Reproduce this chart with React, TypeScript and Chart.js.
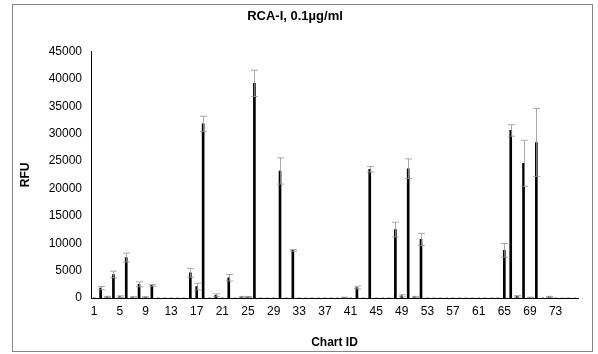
import React, { useEffect, useRef } from "react";
import { Chart, registerables } from "chart.js";

Chart.register(...registerables);

const TITLE = "RCA-I, 0.1µg/ml";
const X_TITLE = "Chart ID";
const Y_TITLE = "RFU";

const categories: string[] = Array.from({ length: 76 }, (_, i) => String(i + 1));

// RFU values per Chart ID (1..76)
const values: number[] = [
  0, 1800, 200, 4300, 250, 7400, 150, 2500, 150, 2300,
  0, 0, 0, 0, 0, 4600, 2100, 31800, 0, 500,
  0, 3700, 0, 200, 200, 39200, 0, 0, 0, 23200,
  0, 8700, 0, 0, 0, 0, 0, 0, 0, 100,
  0, 1900, 0, 23500, 0, 0, 0, 12500, 400, 23600,
  200, 10700, 0, 0, 0, 0, 0, 0, 0, 0,
  0, 0, 0, 0, 8700, 30600, 300, 24600, 100, 28400,
  0, 200, 0, 0, 0, 0,
];

// error (± standard deviation) per Chart ID
const errors: number[] = [
  0, 300, 100, 600, 150, 800, 80, 450, 80, 150,
  0, 0, 0, 0, 0, 800, 600, 1400, 0, 250,
  0, 600, 0, 100, 80, 2400, 0, 0, 0, 2400,
  0, 150, 0, 0, 0, 0, 0, 0, 0, 50,
  0, 250, 0, 500, 0, 0, 0, 1350, 200, 1800,
  100, 1100, 0, 0, 0, 0, 0, 0, 0, 0,
  0, 0, 0, 0, 1250, 1050, 150, 4200, 50, 6200,
  0, 100, 0, 0, 0, 0,
];

const Y_MIN = 0;
const Y_MAX = 45000;
const Y_STEP = 5000;

const errorBarPlugin = {
  id: "errorBars",
  afterDatasetsDraw(chart: any) {
    const ctx = chart.ctx;
    const meta = chart.getDatasetMeta(0);
    const yScale = chart.scales.y;
    ctx.save();
    ctx.strokeStyle = "rgba(150,150,150,0.8)";
    ctx.lineWidth = 1;
    meta.data.forEach((bar: any, i: number) => {
      const e = errors[i];
      if (!e) return;
      const v = values[i];
      const x = Math.round(bar.x) + 0.5;
      const yTop = yScale.getPixelForValue(v + e);
      const yBot = yScale.getPixelForValue(Math.max(v - e, 0));
      const hw = 3.5;
      ctx.beginPath();
      ctx.moveTo(x, yTop);
      ctx.lineTo(x, yBot);
      ctx.moveTo(x - hw, yTop);
      ctx.lineTo(x + hw, yTop);
      ctx.moveTo(x - hw, yBot);
      ctx.lineTo(x + hw, yBot);
      ctx.stroke();
    });
    ctx.restore();
  },
};

const framePlugin = {
  id: "frame",
  beforeDraw(chart: any) {
    const ctx = chart.ctx;
    ctx.save();
    ctx.fillStyle = "#ffffff";
    ctx.fillRect(0, 0, chart.width, chart.height);
    ctx.strokeStyle = "#868686";
    ctx.lineWidth = 1;
    ctx.strokeRect(12.5, 4.5, 580, 347);
    ctx.restore();
  },
};

export default function App() {
  const ref = useRef<HTMLCanvasElement | null>(null);

  useEffect(() => {
    if (!ref.current) return;
    Chart.defaults.font.family = "'Liberation Sans', Arial, sans-serif";
    Chart.defaults.color = "#000";
    const chart = new Chart(ref.current, {
      type: "bar",
      data: {
        labels: categories,
        datasets: [
          {
            data: values,
            backgroundColor: "#000000",
            borderWidth: 0,
            barThickness: 2,
          },
        ],
      },
      options: {
        animation: false,
        responsive: false,
        devicePixelRatio: 1,
        layout: { padding: { left: 12, right: 20, top: 0, bottom: 2 } },
        plugins: {
          legend: { display: false },
          tooltip: { enabled: false },
          title: {
            display: true,
            text: TITLE,
            color: "#000",
            font: { size: 13, weight: "bold" },
            padding: { top: 9, bottom: 27 },
          },
        },
        scales: {
          x: {
            grid: { display: false, drawTicks: false },
            border: { display: true, color: "#000", width: 1 },
            ticks: {
              autoSkip: false,
              maxRotation: 0,
              minRotation: 0,
              padding: 6,
              font: { size: 12 },
              color: "#000",
              callback: (_v: any, i: number) => (i % 4 === 0 ? categories[i] : ""),
            },
            title: {
              display: true,
              text: X_TITLE,
              color: "#000",
              font: { size: 12, weight: "bold" },
              padding: { top: 0, bottom: 2 },
            },
            afterFit: (scale: any) => {
              scale.height = 54;
            },
          },
          y: {
            min: Y_MIN,
            max: Y_MAX,
            grid: { display: false, drawTicks: false },
            border: { display: true, color: "#000", width: 1 },
            ticks: {
              stepSize: Y_STEP,
              padding: 9,
              font: { size: 12 },
              color: "#000",
              callback: (v: any) => String(v),
            },
            title: {
              display: true,
              text: Y_TITLE,
              color: "#000",
              font: { size: 12, weight: "bold" },
              padding: { top: 6, bottom: 0 },
            },
            afterFit: (scale: any) => {
              scale.width = 79;
            },
          },
        },
      },
      plugins: [framePlugin, errorBarPlugin],
    });
    return () => chart.destroy();
  }, []);

  return (
    <div style={{ position: "fixed", left: 0, top: 0, width: 598, height: 354 }}>
      <canvas ref={ref} width={598} height={354} style={{ width: 598, height: 354 }} />
    </div>
  );
}
